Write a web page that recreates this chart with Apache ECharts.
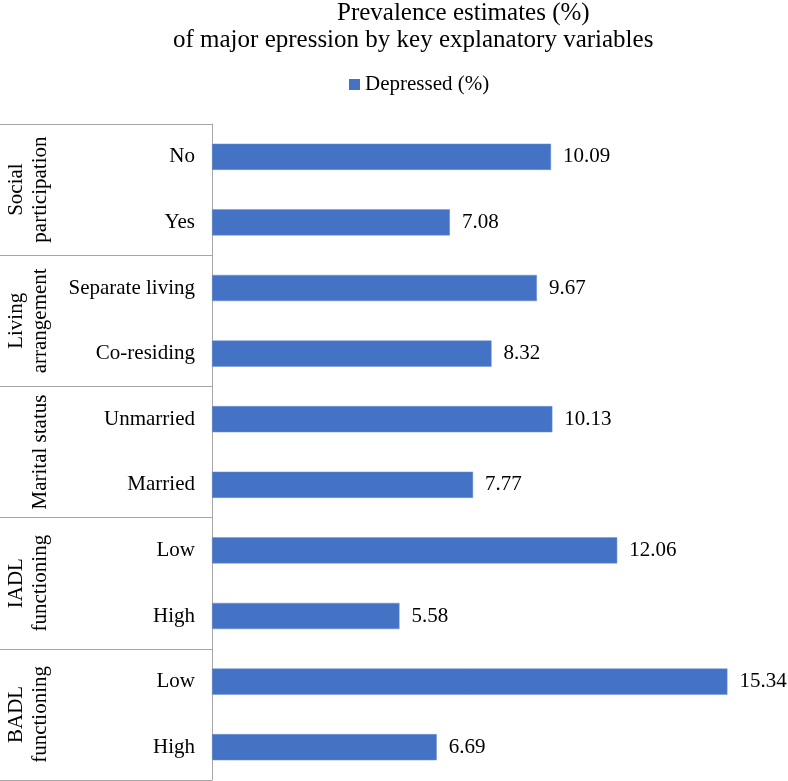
<!DOCTYPE html>
<html>
<head>
<meta charset="utf-8">
<script src="https://cdn.jsdelivr.net/npm/echarts@6/dist/echarts.min.js"></script>
<style>
html,body{margin:0;padding:0;background:#fff;}
#chart{width:788px;height:781px;}
</style>
</head>
<body>
<div id="chart"></div>
<script>
// Data
var categories = ['No', 'Yes', 'Separate living', 'Co-residing', 'Unmarried', 'Married', 'Low', 'High', 'Low', 'High'];
var groups = ['Social\nparticipation', 'Living\narrangement', 'Marital status', 'IADL\nfunctioning', 'BADL\nfunctioning'];
var depressed = [10.09, 7.08, 9.67, 8.32, 10.13, 7.77, 12.06, 5.58, 15.34, 6.69];
var titleLine1 = 'Prevalence estimates (%)';
var titleLine2 = 'of major epression by key explanatory variables';
var seriesName = 'Depressed (%)';

var FONT = '"Liberation Serif", "Times New Roman", serif';
var chart = echarts.init(document.getElementById('chart'), null, {renderer: 'canvas'});
var catData = categories.map(function (c, i) { return {value: c + '#' + i}; });
chart.setOption({
  animation: false,
  backgroundColor: '#fff',
  title: [
    {text: titleLine1, left: 337, top: 0, padding: 0,
     textStyle: {fontFamily: FONT, fontSize: 25, fontWeight: 'normal', color: '#000', lineHeight: 27}},
    {text: titleLine2, left: 173, top: 27, padding: 0,
     textStyle: {fontFamily: FONT, fontSize: 25, fontWeight: 'normal', color: '#000', lineHeight: 27}}
  ],
  legend: {
    data: [seriesName], left: 349, top: 74, padding: 0,
    icon: 'rect', itemWidth: 11, itemHeight: 11,
    itemStyle: {borderWidth: 0},
    textStyle: {fontFamily: FONT, fontSize: 21, color: '#000', padding: [0, 0, 0, 0]}
  },
  grid: {left: 212, top: 124, width: 537.6, height: 656, containLabel: false, outerBoundsMode: 'none'},
  xAxis: {
    type: 'value', min: 0, max: 16, show: false
  },
  yAxis: [
    {
      type: 'category', inverse: true, data: catData,
      axisLine: {show: true, lineStyle: {color: '#a6a6a6', width: 1}},
      axisTick: {show: false},
      axisLabel: {
        margin: 17, fontFamily: FONT, fontSize: 21, color: '#000',
        formatter: function (v) { return v.split('#')[0]; }
      }
    },
    {
      type: 'category', inverse: true, data: groups, position: 'left',
      axisLine: {show: false},
      axisTick: {show: true, inside: false, length: 212, interval: 0,
                 lineStyle: {color: '#a6a6a6', width: 1}},
      axisLabel: {
        rotate: 90, margin: 160, interval: 0, fontFamily: FONT, fontSize: 21,
        color: '#000', lineHeight: 24
      }
    }
  ],
  series: [{
    name: seriesName, type: 'bar', yAxisIndex: 0,
    data: depressed, barWidth: '40%',
    itemStyle: {color: '#4472C4', borderColor: '#6f93d3', borderWidth: 0.5},
    label: {
      show: true, position: 'right', distance: 12,
      fontFamily: FONT, fontSize: 21, color: '#000',
      formatter: function (p) { return p.value.toFixed(2); }
    }
  }]
});
</script>
</body>
</html>
